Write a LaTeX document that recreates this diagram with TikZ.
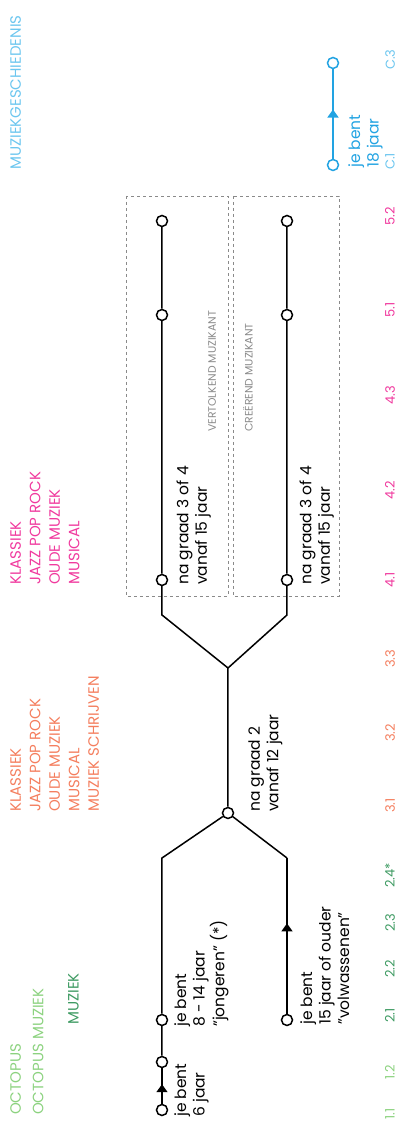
\documentclass[tikz,border=0pt]{standalone}
\usepackage{fontspec}
\setmainfont{Poppins}
\usetikzlibrary{positioning, arrows.meta, decorations.markings}

\definecolor{octgreen}{HTML}{8CD27F}
\definecolor{muzgreen}{HTML}{3F9B63}
\definecolor{klorange}{HTML}{F47E5E}
\definecolor{klpink}{HTML}{F03A9E}
\definecolor{hisblue}{HTML}{22A3E2}
\definecolor{hislight}{HTML}{6CC6EF}
\definecolor{zonegray}{HTML}{8A8A8A}

\begin{document}
\begin{tikzpicture} [x = 1pt, y = 1pt, rotate = 90, transform shape,
        stop/.style = {circle, draw, fill=white, line width=1.5pt, inner sep=0pt, minimum size=11pt},
        track/.style = {line width=1.5pt},
        upward/.style = {postaction={decorate, decoration={markings,
            mark=at position #1 with {\arrow{Triangle[width=11pt, length=8pt]}}}}},
        info/.style = {align=left, inner sep=0pt, font=\fontsize{15.5}{18.5}\selectfont},
        genre/.style = {align=left, inner sep=0pt, anchor=north west, font=\fontsize{15}{19.5}\selectfont},
        grade/.style = {inner sep=0pt, anchor=west, font=\fontsize{13}{15}\selectfont},
        zone/.style = {draw=zonegray, dashed, line width=0.8pt},
        role/.style = {inner sep=0pt, anchor=west, text=zonegray, font=\fontsize{10.8}{12}\selectfont}]
        \useasboundingbox (0,0) rectangle (1123,399);

        % stops
        \node (s11) [stop] at (13,237) {};
        \node (s12) [stop] at (61,237) {};
        \node (s21) [stop] at (103,237) {};
        \node (v21) [stop] at (103,112) {};
        \node (k31) [stop] at (310,171) {};
        \node (v41) [stop] at (543,237) {};
        \node (v51) [stop] at (808,237) {};
        \node (v52) [stop] at (902,237) {};
        \node (c41) [stop] at (543,112) {};
        \node (c51) [stop] at (808,112) {};
        \node (c52) [stop] at (902,112) {};
        \node (h1) [stop, draw=hisblue] at (958,66) {};
        \node (h3) [stop, draw=hisblue] at (1060,66) {};

        \coordinate (jbend) at (265,237);
        \coordinate (vbend) at (265,112);
        \coordinate (split) at (455,171);
        \coordinate (vsplit) at (508,237);
        \coordinate (csplit) at (508,112);

        % tracks
        \draw [track, upward=0.55] (s11) -- (s12);
        \draw [track] (s12) -- (s21) -- (jbend) -- (k31);
        \draw [track, upward=0.58] (v21) -- (vbend);
        \draw [track] (vbend) -- (k31);
        \draw [track] (k31) -- (split) -- (vsplit) -- (v41) -- (v51) -- (v52);
        \draw [track] (split) -- (csplit) -- (c41) -- (c51) -- (c52);
        \draw [track, hisblue, upward=0.55] (h1) -- (h3);

        % zones
        \node (vzone) [zone, minimum width=400pt, minimum height=102pt] at (727,222) {};
        \node (czone) [zone, minimum width=400pt, minimum height=106pt] at (727,113) {};
        \node (vrole) [role] at (691,187) {VERTOLKEND MUZIKANT};
        \node (crole) [role] at (691,151) {CREËREND MUZIKANT};

        % labels
        \node (l11) [info, below right = 6pt and -7pt of s11.south] {je bent\\6 jaar};
        \node (l21) [info, below right = 6pt and -7pt of s21.south] {je bent\\8 - 14 jaar\\"jongeren" (*)};
        \node (lv21) [info, below right = 7pt and -5pt of v21.south] {je bent\\15 jaar of ouder\\"volwassenen"};
        \node (l31) [info, below right = 14pt and 1pt of k31.south] {na graad 2\\vanaf 12 jaar};
        \node (lv41) [info, below right = 8pt and -5pt of v41.south] {na graad 3 of 4\\vanaf 15 jaar};
        \node (lc41) [info, below right = 6pt and -5pt of c41.south] {na graad 3 of 4\\vanaf 15 jaar};
        \node (lh1) [info, text=hisblue, below right = 9pt and -3pt of h1.south] {je bent\\18 jaar};

        % genres
        \node (octo) [genre, text=octgreen, font=\fontsize{15}{22.5}\selectfont] at (8,389) {OCTOPUS\\OCTOPUS MUZIEK};
        \node (muz) [genre, text=muzgreen] at (98,331) {MUZIEK};
        \node (kl3) [genre, text=klorange] at (311,389) {KLASSIEK\\JAZZ POP ROCK\\OUDE MUZIEK\\MUSICAL\\MUZIEK SCHRIJVEN};
        \node (kl4) [genre, text=klpink] at (538,389) {KLASSIEK\\JAZZ POP ROCK\\OUDE MUZIEK\\MUSICAL};
        \node (hist) [genre, text=hislight] at (953,389) {MUZIEKGESCHIEDENIS};

        % grades
        \node (g11) [grade, text=octgreen] at (3,9) {1.1};
        \node (g12) [grade, text=octgreen] at (43,9) {1.2};
        \node (g21) [grade, text=muzgreen] at (100,9) {2.1};
        \node (g22) [grade, text=muzgreen] at (145,9) {2.2};
        \node (g23) [grade, text=muzgreen] at (191,9) {2.3};
        \node (g24) [grade, text=muzgreen] at (235,9) {2.4*};
        \node (g31) [grade, text=klorange] at (310,9) {3.1};
        \node (g32) [grade, text=klorange] at (381,9) {3.2};
        \node (g33) [grade, text=klorange] at (455,9) {3.3};
        \node (g41) [grade, text=klpink] at (535,9) {4.1};
        \node (g42) [grade, text=klpink] at (623,9) {4.2};
        \node (g43) [grade, text=klpink] at (718,9) {4.3};
        \node (g51) [grade, text=klpink] at (805,9) {5.1};
        \node (g52) [grade, text=klpink] at (897,9) {5.2};
        \node (gc1) [grade, text=hislight] at (953,9) {C.1};
        \node (gc3) [grade, text=hislight] at (1053,9) {C.3};
    \end{tikzpicture}
\end{document}
